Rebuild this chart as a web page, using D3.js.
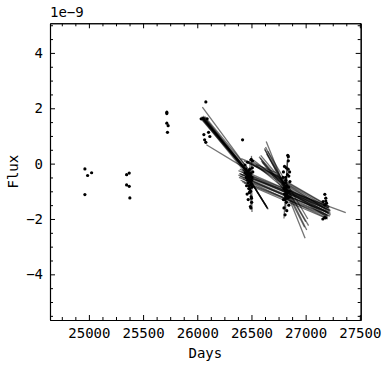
<!DOCTYPE html>
<html><head><meta charset="utf-8">
<script src="https://cdn.jsdelivr.net/npm/d3@7"></script>
<style>body{margin:0;background:#fff}svg{display:block}</style>
</head><body><div id="chart"></div>
<script>
// Observed days (x) and flux (units of 1e-9)
const obsDays = [24963,24988,25025,24963,
  25348,25372,25348,25372,25378,
  25719,25719,25719,25731,25725,
  26036,26054,26091,26079,26061,26104,26068,26079,26116,26418,
  26440,26450,26455,26460,26462,26465,26468,26470,26472,26475,26478,26480,26482,26485,26487,26490,26492,26495,26497,26500,26502,26505,26508,26510,26498,26455,26460,26470,26480,26490,26500,26475,26485,26465,26452,26445,26505,26512,26495,26488,
  26790,26795,26800,26805,26808,26810,26812,26815,26818,26820,26822,26825,26828,26830,26832,26835,26838,26840,26842,26845,26848,26850,26852,26855,26800,26810,26820,26835,26845,26805,26795,26815,26826,26800,26812,26840,
  27177,27186,27161,27193,27177,27186,27159,27184,27175];
const obsFlux = [-0.19,-0.43,-0.33,-1.12,
  -0.40,-0.34,-0.77,-0.82,-1.24,
  1.86,1.81,1.46,1.37,1.13,
  1.62,1.63,1.62,2.23,1.05,1.13,0.86,0.77,0.98,0.86,
  -0.05,-0.2,-0.35,-0.45,-0.6,-0.3,-0.5,-0.7,-0.4,-0.25,-0.55,-0.8,-0.65,-0.9,-0.45,-0.35,-1.0,-0.75,-1.2,-0.6,-1.4,-0.5,-0.15,0.1,0.15,-0.8,-1.1,-1.3,-1.05,-1.55,-1.25,-0.9,-0.2,0.05,-0.5,-0.35,-0.85,-0.3,-1.6,-1.0,
  -0.5,-0.3,-0.9,-1.1,-0.7,-1.3,-0.95,-1.2,-0.6,-1.0,-1.4,-0.8,-1.15,-1.05,-0.4,-1.25,-0.2,0.1,-0.85,-1.5,-1.0,-1.2,-0.3,-0.65,-1.6,-1.85,-0.15,0.3,-0.45,-0.1,-1.3,-0.5,-1.7,-0.7,-1.1,0.25,
  -1.11,-1.25,-1.37,-1.43,-1.49,-1.35,-2.0,-1.96,-1.95];

// Model trend segments: start day, start flux, end day, end flux
const segStartDay = [26040,26045,26050,26055,26060,26045,26035,26065,26050,26070,26047,26084,26042,26058,26062,26048,
  26430,26440,26420,26450,26500,26485,26435,
  26378,26390,26385,26400,26410,26395,26420,26430,26380,26405,26415,26440,26392,26425,26390,
  26405,26430,26460,26500,26543,26520,26480,26450,
  26636,26623,26630,26640,26650,26620,
  26580,26590,26570,26600,26585,
  26760,26770,26780,26790,26800,26765,26775,26785,26795,26770,
  26836,26830];
const segStartFlux = [1.70,1.65,1.62,1.72,1.60,1.68,1.62,1.66,1.58,1.70,2.04,0.68,1.64,1.67,1.61,1.69,
  -0.25,-0.3,-0.2,-0.35,0.28,0.15,-0.28,
  -0.41,-0.36,-0.5,-0.6,-0.3,-0.45,-0.55,-0.7,-0.25,-0.4,-0.65,-0.5,-0.2,-0.35,-0.36,
  0.18,0.1,0.05,0.0,-0.05,0.12,0.15,0.08,
  0.8,0.5,0.6,0.35,0.45,0.55,
  0.2,0.1,0.25,0.05,0.3,
  -0.5,-0.6,-0.7,-0.8,-0.9,-0.55,-0.75,-0.65,-0.85,-0.95,
  0.24,0.1];
const segEndDay = [26500,26490,26510,26480,26520,26505,26495,26500,26480,26510,26460,26455,26492,26498,26506,26488,
  26650,26645,26640,26655,26505,26495,26648,
  27224,27219,27210,27200,27230,27215,27190,27205,27220,27225,27200,27210,27215,27195,27370,
  26730,26760,26780,26800,26820,26790,26770,26750,
  26995,27027,27010,27000,27020,26990,
  26830,26820,26810,26830,26800,
  27200,27210,27220,27230,27205,27215,27225,27190,27210,27230,
  26800,26815];
const segEndFlux = [-0.45,-0.40,-0.55,-0.35,-0.60,-0.50,-0.48,-0.42,-0.50,-0.38,-0.15,-0.2,-0.44,-0.52,-0.47,-0.41,
  -1.62,-1.6,-1.55,-1.65,-1.75,-1.5,-1.63,
  -1.9,-1.62,-1.75,-1.85,-1.7,-1.8,-1.95,-2.0,-1.55,-1.68,-1.9,-1.78,-1.6,-1.72,-1.77,
  -0.33,-0.5,-0.6,-0.75,-0.95,-0.7,-0.55,-0.45,
  -2.7,-2.24,-2.4,-2.1,-2.0,-2.3,
  -1.0,-0.9,-0.8,-1.1,-0.7,
  -1.5,-1.6,-1.7,-1.85,-1.95,-1.55,-1.75,-1.65,-1.9,-1.8,
  -1.98,-1.7];

const xTicks = [25000,25500,26000,26500,27000,27500];
const yTicks = [-4,-2,0,2,4];
const offsetLabel = "1e\u22129";
const xLabel = "Days", yLabel = "Flux";

const W = 388, H = 369;
const L = 50, R = 360.7, T = 23.3, B = 320;
const font = "'DejaVu Sans Mono', monospace";

const x = d3.scaleLinear().domain([24641, 27508]).range([L, R]);
const y = d3.scaleLinear().domain([-5.65, 5.07]).range([B, T]);

const svg = d3.select("#chart").append("svg").attr("width", W).attr("height", H)
  .style("background", "#fff");

svg.append("clipPath").attr("id", "c").append("rect")
  .attr("x", L).attr("y", T).attr("width", R - L).attr("height", B - T);

const plot = svg.append("g").attr("clip-path", "url(#c)");

plot.selectAll("line.seg").data(d3.range(segStartDay.length)).join("line")
  .attr("class", "seg")
  .attr("x1", i => x(segStartDay[i])).attr("y1", i => y(segStartFlux[i]))
  .attr("x2", i => x(segEndDay[i])).attr("y2", i => y(segEndFlux[i]))
  .attr("stroke", "#000").attr("stroke-opacity", 0.55).attr("stroke-width", 1.3);

plot.selectAll("circle").data(d3.range(obsDays.length)).join("circle")
  .attr("cx", i => x(obsDays[i])).attr("cy", i => y(obsFlux[i]))
  .attr("r", 1.6).attr("fill", "#000");

// minor ticks
const xMinor = d3.range(24750, 27508, 125).filter(v => v % 500 !== 0);
const yMinor = d3.range(-5.5, 5.07, 0.5).filter(v => Math.abs(v % 2) > 1e-9);

function styleAxis(g) {
  g.selectAll("path.domain").attr("stroke", "#000").attr("stroke-width", 1.1);
  g.selectAll(".tick line").attr("stroke", "#000").attr("stroke-width", 1);
  g.selectAll("text").attr("font-family", font).attr("font-size", 14).attr("fill", "#000");
}
function fmt(v) { return v < 0 ? "\u2212" + Math.abs(v) : String(v); }

svg.append("g").attr("transform", `translate(0,${B})`)
  .call(d3.axisBottom(x).tickValues(xTicks).tickFormat(fmt).tickSizeInner(-5).tickSizeOuter(0).tickPadding(8)).call(styleAxis);
svg.append("g").attr("transform", `translate(0,${B})`)
  .call(d3.axisBottom(x).tickValues(xMinor).tickFormat("").tickSizeInner(-3).tickSizeOuter(0)).call(styleAxis);
svg.append("g").attr("transform", `translate(0,${T})`)
  .call(d3.axisTop(x).tickValues(xTicks).tickFormat("").tickSizeInner(-5).tickSizeOuter(0)).call(styleAxis);
svg.append("g").attr("transform", `translate(0,${T})`)
  .call(d3.axisTop(x).tickValues(xMinor).tickFormat("").tickSizeInner(-3).tickSizeOuter(0)).call(styleAxis);

svg.append("g").attr("transform", `translate(${L},0)`)
  .call(d3.axisLeft(y).tickValues(yTicks).tickFormat(fmt).tickSizeInner(-5).tickSizeOuter(0).tickPadding(7)).call(styleAxis);
svg.append("g").attr("transform", `translate(${L},0)`)
  .call(d3.axisLeft(y).tickValues(yMinor).tickFormat("").tickSizeInner(-3).tickSizeOuter(0)).call(styleAxis);
svg.append("g").attr("transform", `translate(${R},0)`)
  .call(d3.axisRight(y).tickValues(yTicks).tickFormat("").tickSizeInner(-5).tickSizeOuter(0)).call(styleAxis);
svg.append("g").attr("transform", `translate(${R},0)`)
  .call(d3.axisRight(y).tickValues(yMinor).tickFormat("").tickSizeInner(-3).tickSizeOuter(0)).call(styleAxis);

svg.append("text").attr("x", L).attr("y", 17).text(offsetLabel)
  .attr("font-family", font).attr("font-size", 14).attr("fill", "#000");
svg.append("text").attr("x", (L + R) / 2).attr("y", 358).attr("text-anchor", "middle").text(xLabel)
  .attr("font-family", font).attr("font-size", 14).attr("fill", "#000");
svg.append("text").attr("transform", `translate(18,${(T + B) / 2}) rotate(-90)`).attr("text-anchor", "middle").text(yLabel)
  .attr("font-family", font).attr("font-size", 14).attr("fill", "#000");
</script></body></html>
